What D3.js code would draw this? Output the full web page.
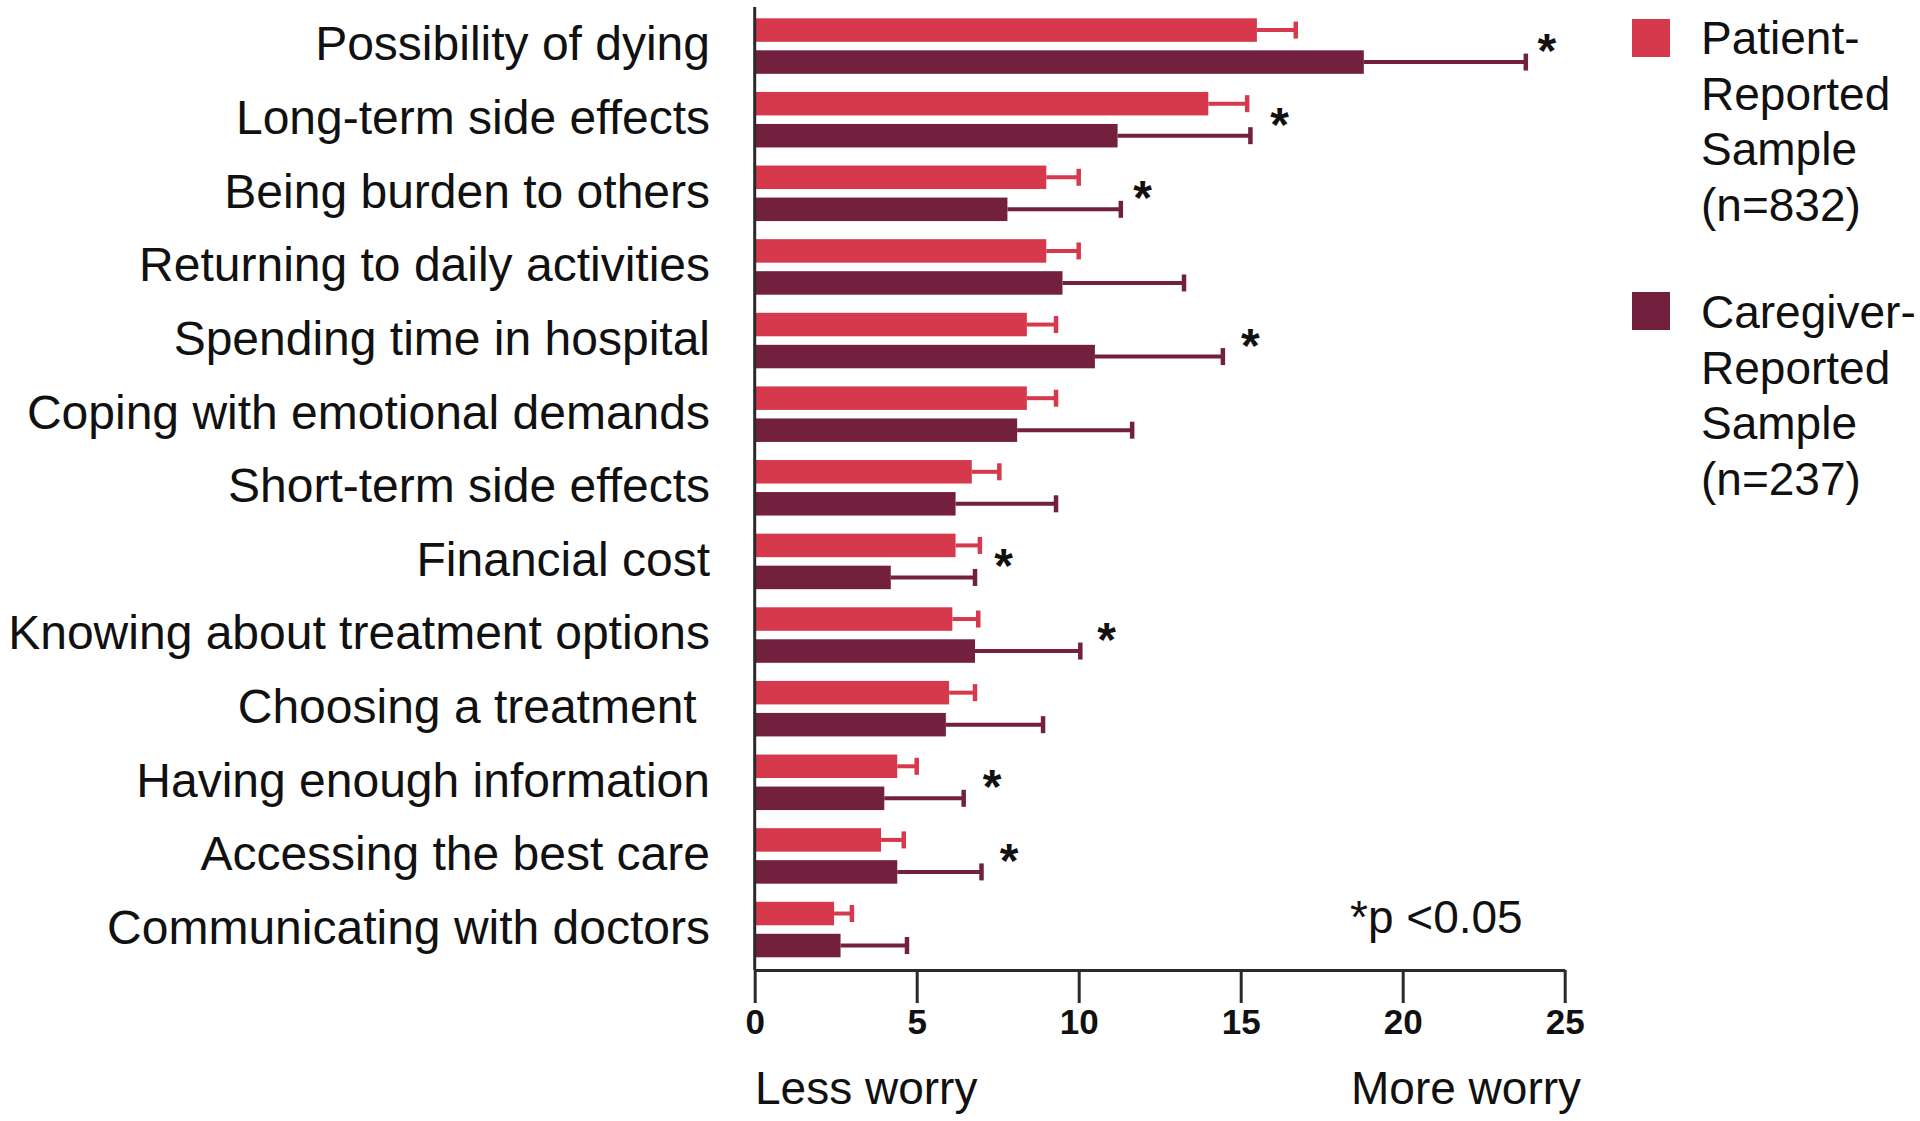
<!DOCTYPE html>
<html>
<head>
<meta charset="utf-8">
<script src="https://cdn.jsdelivr.net/npm/d3@7"></script>
<style>
  html, body { margin: 0; padding: 0; background: #ffffff; }
  svg { display: block; font-family: "Liberation Sans", Arial, Helvetica, sans-serif; }
</style>
</head>
<body>
<svg id="chart" width="1920" height="1121"></svg>
<script>
// ---------------- data ----------------
const categories = [
  "Possibility of dying",
  "Long-term side effects",
  "Being burden to others",
  "Returning to daily activities",
  "Spending time in hospital",
  "Coping with emotional demands",
  "Short-term side effects",
  "Financial cost",
  "Knowing about treatment options",
  "Choosing a treatment ",
  "Having enough information",
  "Accessing the best care",
  "Communicating with doctors"
];
const seriesNames = ["Patient-Reported Sample (n=832)", "Caregiver-Reported Sample (n=237)"];
const patientMean  = [15.5, 14.0, 9.0, 9.0, 8.4, 8.4, 6.7, 6.2, 6.1, 6.0, 4.4, 3.9, 2.45];
const patientUpper = [16.7, 15.2, 10.0, 10.0, 9.3, 9.3, 7.55, 6.95, 6.9, 6.8, 5.0, 4.6, 3.0];
const caregiverMean  = [18.8, 11.2, 7.8, 9.5, 10.5, 8.1, 6.2, 4.2, 6.8, 5.9, 4.0, 4.4, 2.65];
const caregiverUpper = [23.8, 15.3, 11.3, 13.25, 14.45, 11.65, 9.3, 6.8, 10.05, 8.9, 6.45, 7.0, 4.7];
const significant = [true, true, true, false, true, false, false, true, true, false, true, true, false];
const starAt = [24.45, 16.2, 11.97, null, 15.3, null, null, 7.68, 10.86, null, 7.33, 7.85, null];
const xTicks = [0, 5, 10, 15, 20, 25];
const legendPatient = ["Patient-", "Reported", "Sample", "(n=832)"];
const legendCaregiver = ["Caregiver-", "Reported", "Sample", "(n=237)"];
const noteText = "*p <0.05";
const lessText = "Less worry";
const moreText = "More worry";

// ---------------- layout ----------------
const colors = { patient: "#D5394B", caregiver: "#72203D" };
const svg = d3.select("#chart");

const x = d3.scaleLinear().domain([0, 25]).range([754.7, 1564.7]);
const y = d3.scaleBand().domain(categories).range([9.25, 966.35])
  .paddingInner(0.246).paddingOuter(0.123);
const ySub = d3.scaleBand().domain(["patient", "caregiver"]).range([0, y.bandwidth()])
  .paddingInner(0.266).paddingOuter(0);

const rows = categories.map((c, i) => ({
  cat: c,
  bars: [
    { key: "patient", mean: patientMean[i], upper: patientUpper[i] },
    { key: "caregiver", mean: caregiverMean[i], upper: caregiverUpper[i] }
  ],
  sig: significant[i],
  star: starAt[i]
}));

const baseY = 970;

// groups
const g = svg.append("g");
const grp = g.selectAll("g.row").data(rows).join("g")
  .attr("class", "row")
  .attr("transform", d => `translate(0,${y(d.cat)})`);

// bars
grp.selectAll("rect.bar").data(d => d.bars).join("rect")
  .attr("class", "bar")
  .attr("x", x(0))
  .attr("y", d => ySub(d.key))
  .attr("width", d => x(d.mean) - x(0))
  .attr("height", ySub.bandwidth())
  .attr("fill", d => colors[d.key]);

// error bars
grp.selectAll("line.err").data(d => d.bars).join("line")
  .attr("class", "err")
  .attr("x1", d => x(d.mean))
  .attr("x2", d => x(d.upper))
  .attr("y1", d => ySub(d.key) + ySub.bandwidth() / 2)
  .attr("y2", d => ySub(d.key) + ySub.bandwidth() / 2)
  .attr("stroke", d => colors[d.key])
  .attr("stroke-width", 4);
grp.selectAll("line.cap").data(d => d.bars).join("line")
  .attr("class", "cap")
  .attr("x1", d => x(d.upper))
  .attr("x2", d => x(d.upper))
  .attr("y1", d => ySub(d.key) + ySub.bandwidth() / 2 - 8.5)
  .attr("y2", d => ySub(d.key) + ySub.bandwidth() / 2 + 8.5)
  .attr("stroke", d => colors[d.key])
  .attr("stroke-width", 4.5);

// significance stars
grp.filter(d => d.sig).append("text")
  .attr("x", d => x(d.star))
  .attr("y", y.bandwidth() / 2 + 21)
  .attr("text-anchor", "middle")
  .attr("font-size", 48)
  .attr("font-weight", "bold")
  .attr("fill", "#111")
  .text("*");

// category labels
g.selectAll("text.cat").data(rows).join("text")
  .attr("class", "cat")
  .attr("x", 710)
  .attr("y", d => y(d.cat) + y.bandwidth() / 2)
  .attr("dy", "0.3em")
  .attr("text-anchor", "end")
  .attr("font-size", 48)
  .attr("fill", "#111")
  .style("white-space", "pre")
  .text(d => d.cat);

// x axis
const xAxis = d3.axisBottom(x).tickValues(xTicks).tickSize(33).tickSizeOuter(0).tickPadding(6)
  .tickFormat(d3.format("d"));
const ax = svg.append("g").attr("transform", `translate(0,${baseY})`).call(xAxis);
ax.select(".domain").attr("stroke", "#2a2a2a").attr("stroke-width", 3);
ax.selectAll(".tick line").attr("stroke", "#2a2a2a").attr("stroke-width", 3);
ax.selectAll(".tick text")
  .attr("font-family", "'Liberation Sans', Arial, sans-serif")
  .attr("font-size", 35).attr("font-weight", "bold").attr("fill", "#111")
  .attr("dy", "0.71em");

// y axis line
const yAxis = d3.axisLeft(y).tickValues([]).tickSizeOuter(0);
const ay = svg.append("g").attr("transform", `translate(${x(0)},0)`).call(yAxis);
ay.select(".domain").attr("d", `M0,7V${baseY}`)
  .attr("stroke", "#2a2a2a").attr("stroke-width", 3);

// note and worry captions
svg.append("text").attr("x", 1350).attr("y", 933).attr("font-size", 46).attr("fill", "#111").text(noteText);
svg.append("text").attr("x", 755).attr("y", 1104).attr("font-size", 46).attr("fill", "#111").text(lessText);
svg.append("text").attr("x", 1351).attr("y", 1104).attr("font-size", 46).attr("fill", "#111").text(moreText);

// legend
const legends = [
  { key: "patient", lines: legendPatient, sqY: 19, base: 54 },
  { key: "caregiver", lines: legendCaregiver, sqY: 292, base: 328 }
];
const lg = svg.append("g").selectAll("g").data(legends).join("g");
lg.append("rect").attr("x", 1632).attr("y", d => d.sqY).attr("width", 38).attr("height", 38)
  .attr("fill", d => colors[d.key]);
lg.append("text").attr("font-size", 46).attr("fill", "#111")
  .selectAll("tspan").data(d => d.lines.map((t, i) => ({ t, i, base: d.base }))).join("tspan")
  .attr("x", 1701).attr("y", d => d.base + d.i * 55.7).text(d => d.t);
</script>
</body>
</html>
